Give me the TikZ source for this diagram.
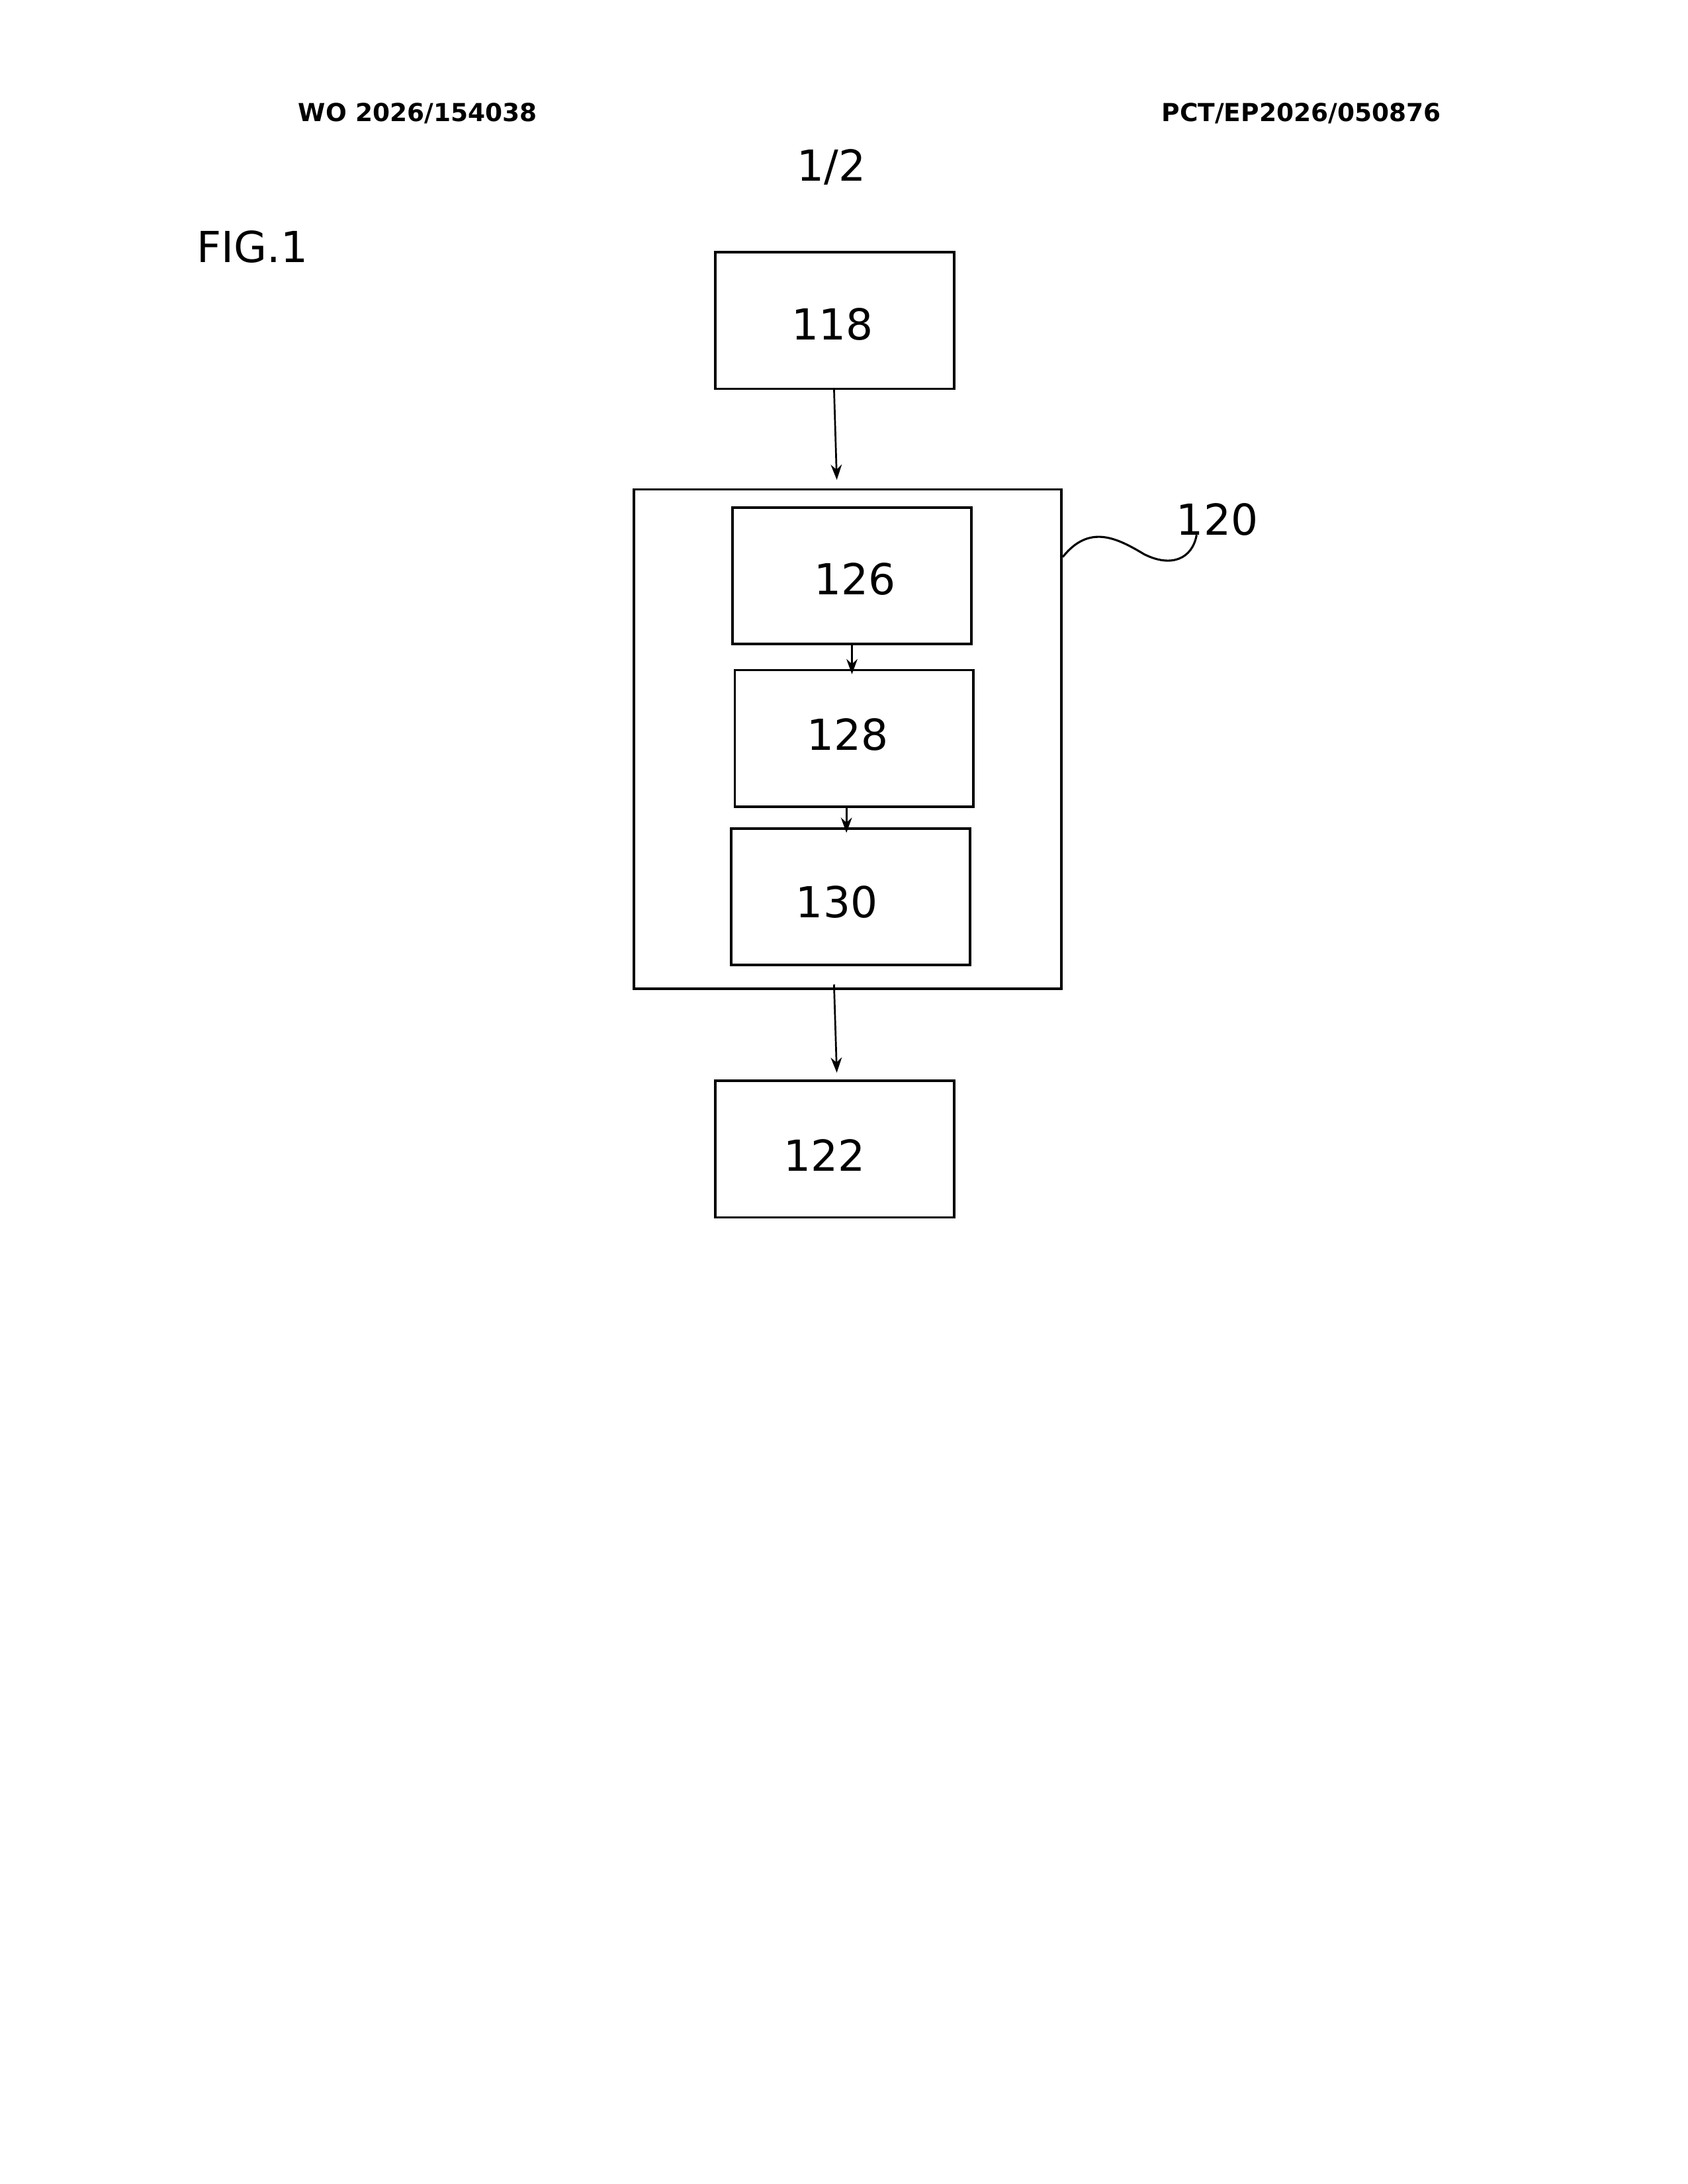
\documentclass[tikz,border=0pt]{standalone}
\usepackage{fontspec}
\setmainfont{DejaVu Sans}
\usetikzlibrary{arrows.meta}
\begin{document}
\begin{tikzpicture}[x=1pt,y=-1pt,
  box/.style={draw,line width=1.8pt,minimum width=173pt,minimum height=99pt,inner sep=0pt},
  num/.style={font=\fontsize{31}{36}\selectfont},
  arr/.style={line width=1.3pt,-{Stealth[length=11pt,width=8pt]}}]
\useasboundingbox (0,0) rectangle (1224,1584);
\node[font=\bfseries\fontsize{18}{22}\selectfont] (h1) at (303,82) {WO 2026/154038};
\node[font=\bfseries\fontsize{18}{22}\selectfont] (h2) at (944,82) {PCT/EP2026/050876};
\node[font=\fontsize{31}{36}\selectfont] (pg) at (603,121) {1/2};
\node[font=\fontsize{31}{36}\selectfont] (fig) at (183,179) {FIG.1};
\node[box] (b118) at (605.5,232.5) {};
\node[num] at (604,235) {118};
\node[draw,line width=1.8pt,minimum width=310pt,minimum height=362pt,inner sep=0pt] (b120) at (615,536) {};
\node[box] (b126) at (618,417.5) {};
\node[num] at (620,420) {126};
\node[box] (b128) at (619.5,535.5) {};
\node[num] at (615,533) {128};
\node[box] (b130) at (617,650.5) {};
\node[num] at (607,654) {130};
\node[box] (b122) at (605.5,833.5) {};
\node[num] at (598,838) {122};
\node[num] (l120) at (883,377) {120};
\coordinate (a1) at (607,348);
\coordinate (a4) at (607,778);
\draw[arr] (605,282) -- (a1);
\draw[arr] (618,467) -- (618,489);
\draw[arr] (614,585) -- (614,604);
\draw[arr] (605,714) -- (a4);
\draw[line width=1.5pt] (b120.east |- 0,404) .. controls (790,380) and (810,390) .. (830,402) .. controls (850,412) and (865,405) .. (868,388);
\end{tikzpicture}
\end{document}
